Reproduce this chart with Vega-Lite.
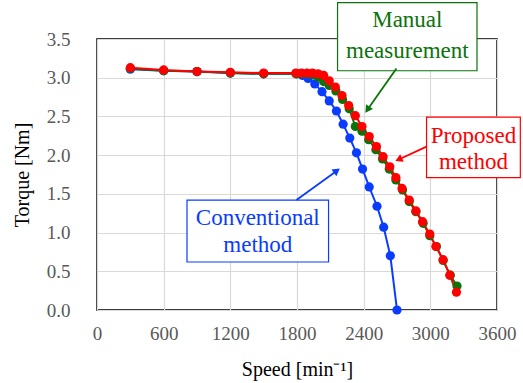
{
  "$schema": "https://vega.github.io/schema/vega-lite/v6.json",
  "width": 400,
  "height": 271,
  "autosize": {"type": "none"},
  "padding": {"left": 97, "top": 39, "right": 26, "bottom": 73},
  "background": "white",
  "config": {
    "view": {"stroke": "black", "strokeWidth": 1.5}
  },
  "datasets": {
    "curves": [
      {"series": "Conventional", "speed": 300, "torque": 3.11},
      {"series": "Conventional", "speed": 600, "torque": 3.09},
      {"series": "Conventional", "speed": 900, "torque": 3.08},
      {"series": "Conventional", "speed": 1200, "torque": 3.06},
      {"series": "Conventional", "speed": 1500, "torque": 3.05},
      {"series": "Conventional", "speed": 1800, "torque": 3.05},
      {"series": "Conventional", "speed": 1850, "torque": 3.03},
      {"series": "Conventional", "speed": 1900, "torque": 2.99},
      {"series": "Conventional", "speed": 1960, "torque": 2.92},
      {"series": "Conventional", "speed": 2025, "torque": 2.82},
      {"series": "Conventional", "speed": 2090, "torque": 2.70},
      {"series": "Conventional", "speed": 2155, "torque": 2.57},
      {"series": "Conventional", "speed": 2215, "torque": 2.40},
      {"series": "Conventional", "speed": 2275, "torque": 2.22},
      {"series": "Conventional", "speed": 2335, "torque": 2.03},
      {"series": "Conventional", "speed": 2390, "torque": 1.82},
      {"series": "Conventional", "speed": 2450, "torque": 1.59},
      {"series": "Conventional", "speed": 2520, "torque": 1.34},
      {"series": "Conventional", "speed": 2580, "torque": 1.07},
      {"series": "Conventional", "speed": 2640, "torque": 0.70},
      {"series": "Conventional", "speed": 2700, "torque": 0.00},
      {"series": "Manual", "speed": 300, "torque": 3.12},
      {"series": "Manual", "speed": 600, "torque": 3.09},
      {"series": "Manual", "speed": 900, "torque": 3.08},
      {"series": "Manual", "speed": 1200, "torque": 3.06},
      {"series": "Manual", "speed": 1500, "torque": 3.05},
      {"series": "Manual", "speed": 1790, "torque": 3.05},
      {"series": "Manual", "speed": 1840, "torque": 3.05},
      {"series": "Manual", "speed": 1890, "torque": 3.05},
      {"series": "Manual", "speed": 1940, "torque": 3.04},
      {"series": "Manual", "speed": 1990, "torque": 3.01},
      {"series": "Manual", "speed": 2040, "torque": 2.95},
      {"series": "Manual", "speed": 2090, "torque": 2.90},
      {"series": "Manual", "speed": 2150, "torque": 2.83},
      {"series": "Manual", "speed": 2210, "torque": 2.72},
      {"series": "Manual", "speed": 2270, "torque": 2.60},
      {"series": "Manual", "speed": 2325, "torque": 2.37},
      {"series": "Manual", "speed": 2385, "torque": 2.31},
      {"series": "Manual", "speed": 2445, "torque": 2.20},
      {"series": "Manual", "speed": 2510, "torque": 2.07},
      {"series": "Manual", "speed": 2570, "torque": 1.95},
      {"series": "Manual", "speed": 2630, "torque": 1.82},
      {"series": "Manual", "speed": 2690, "torque": 1.68},
      {"series": "Manual", "speed": 2750, "torque": 1.55},
      {"series": "Manual", "speed": 2810, "torque": 1.40},
      {"series": "Manual", "speed": 2870, "torque": 1.27},
      {"series": "Manual", "speed": 2935, "torque": 1.12},
      {"series": "Manual", "speed": 2995, "torque": 0.96},
      {"series": "Manual", "speed": 3055, "torque": 0.82},
      {"series": "Manual", "speed": 3115, "torque": 0.64},
      {"series": "Manual", "speed": 3180, "torque": 0.45},
      {"series": "Manual", "speed": 3240, "torque": 0.31},
      {"series": "Proposed", "speed": 300, "torque": 3.13},
      {"series": "Proposed", "speed": 600, "torque": 3.10},
      {"series": "Proposed", "speed": 900, "torque": 3.08},
      {"series": "Proposed", "speed": 1200, "torque": 3.07},
      {"series": "Proposed", "speed": 1500, "torque": 3.06},
      {"series": "Proposed", "speed": 1790, "torque": 3.06},
      {"series": "Proposed", "speed": 1840, "torque": 3.06},
      {"series": "Proposed", "speed": 1890, "torque": 3.06},
      {"series": "Proposed", "speed": 1940, "torque": 3.06},
      {"series": "Proposed", "speed": 1990, "torque": 3.05},
      {"series": "Proposed", "speed": 2040, "torque": 3.03},
      {"series": "Proposed", "speed": 2090, "torque": 2.96},
      {"series": "Proposed", "speed": 2145, "torque": 2.88},
      {"series": "Proposed", "speed": 2205, "torque": 2.77},
      {"series": "Proposed", "speed": 2265, "torque": 2.64},
      {"series": "Proposed", "speed": 2325, "torque": 2.51},
      {"series": "Proposed", "speed": 2385, "torque": 2.37},
      {"series": "Proposed", "speed": 2450, "torque": 2.24},
      {"series": "Proposed", "speed": 2515, "torque": 2.11},
      {"series": "Proposed", "speed": 2575, "torque": 1.98},
      {"series": "Proposed", "speed": 2635, "torque": 1.85},
      {"series": "Proposed", "speed": 2690, "torque": 1.71},
      {"series": "Proposed", "speed": 2745, "torque": 1.57},
      {"series": "Proposed", "speed": 2810, "torque": 1.42},
      {"series": "Proposed", "speed": 2870, "torque": 1.28},
      {"series": "Proposed", "speed": 2930, "torque": 1.14},
      {"series": "Proposed", "speed": 2995, "torque": 0.98},
      {"series": "Proposed", "speed": 3050, "torque": 0.82},
      {"series": "Proposed", "speed": 3115, "torque": 0.65},
      {"series": "Proposed", "speed": 3175, "torque": 0.45},
      {"series": "Proposed", "speed": 3235, "torque": 0.23}
    ],
    "boxes": [
      {"series": "Manual", "x1": 2165, "x2": 3420, "y1": 3.97, "y2": 3.09},
      {"series": "Proposed", "x1": 2966, "x2": 3810, "y1": 2.49, "y2": 1.71},
      {"series": "Conventional", "x1": 810, "x2": 2084, "y1": 1.42, "y2": 0.62}
    ],
    "labels": [
      {"series": "Manual", "x": 2793, "y": 3.74, "text": "Manual"},
      {"series": "Manual", "x": 2793, "y": 3.35, "text": "measurement"},
      {"series": "Proposed", "x": 3388, "y": 2.25, "text": "Proposed"},
      {"series": "Proposed", "x": 3388, "y": 1.91, "text": "method"},
      {"series": "Conventional", "x": 1447, "y": 1.19, "text": "Conventional"},
      {"series": "Conventional", "x": 1447, "y": 0.84, "text": "method"}
    ],
    "arrows": [
      {"series": "Manual", "x1": 2695, "y1": 3.12, "x2": 2440, "y2": 2.60, "angle": 214},
      {"series": "Proposed", "x1": 2966, "y1": 2.11, "x2": 2725, "y2": 1.95, "angle": 245},
      {"series": "Conventional", "x1": 1795, "y1": 1.42, "x2": 2150, "y2": 1.79, "angle": 54}
    ]
  },
  "layer": [
    {
      "data": {"name": "curves"},
      "mark": {"type": "line", "strokeWidth": 2},
      "encoding": {
        "x": {
          "field": "speed", "type": "quantitative",
          "scale": {"domain": [0, 3600], "nice": false},
          "axis": {
            "values": [0, 600, 1200, 1800, 2400, 3000, 3600],
            "format": "d",
            "title": "Speed [min⁻¹]",
            "grid": true, "gridColor": "#d9d9d9", "gridWidth": 1.2,
            "ticks": false, "domain": false,
            "labelFont": "'Liberation Serif', serif", "labelFontSize": 19, "labelColor": "#595959",
            "labelPadding": 14, "labelFlush": false, "labelOverlap": false,
            "titleFont": "'Liberation Serif', serif", "titleFontSize": 20, "titleFontWeight": "normal",
            "titleColor": "black", "titlePadding": 16
          }
        },
        "y": {
          "field": "torque", "type": "quantitative",
          "scale": {"domain": [0, 3.5], "nice": false},
          "axis": {
            "values": [0, 0.5, 1, 1.5, 2, 2.5, 3, 3.5],
            "tickCount": 8,
            "format": ".1f",
            "title": "Torque [Nm]",
            "grid": true, "gridColor": "#d9d9d9", "gridWidth": 1.2,
            "ticks": false, "domain": false,
            "labelFont": "'Liberation Serif', serif", "labelFontSize": 19, "labelColor": "#595959",
            "labelPadding": 27, "labelOverlap": false, "labelFlush": false,
            "titleFont": "'Liberation Serif', serif", "titleFontSize": 20, "titleFontWeight": "normal",
            "titleColor": "black", "titlePadding": 14
          }
        },
        "color": {
          "field": "series", "type": "nominal",
          "scale": {"domain": ["Conventional", "Manual", "Proposed"], "range": ["#0a3cff", "#0b730b", "#ff0000"]},
          "legend": null
        }
      }
    },
    {
      "data": {"name": "curves"},
      "mark": {"type": "point", "filled": true, "opacity": 1, "size": 85},
      "encoding": {
        "x": {"field": "speed", "type": "quantitative"},
        "y": {"field": "torque", "type": "quantitative"},
        "color": {"field": "series", "type": "nominal", "legend": null}
      }
    },
    {
      "data": {"name": "boxes"},
      "mark": {"type": "rect", "fill": "white", "strokeWidth": 1.2},
      "encoding": {
        "x": {"field": "x1", "type": "quantitative"},
        "x2": {"field": "x2"},
        "y": {"field": "y1", "type": "quantitative"},
        "y2": {"field": "y2"},
        "stroke": {"field": "series", "type": "nominal", "scale": {"domain": ["Conventional", "Manual", "Proposed"], "range": ["#0a3cff", "#0b730b", "#ff0000"]}, "legend": null}
      }
    },
    {
      "data": {"name": "labels"},
      "mark": {"type": "text", "font": "'Liberation Serif', serif", "fontSize": 23, "align": "center", "baseline": "middle"},
      "encoding": {
        "x": {"field": "x", "type": "quantitative"},
        "y": {"field": "y", "type": "quantitative"},
        "text": {"field": "text"},
        "color": {"field": "series", "type": "nominal", "legend": null}
      }
    },
    {
      "data": {"name": "arrows"},
      "mark": {"type": "rule", "strokeWidth": 1.8},
      "encoding": {
        "x": {"field": "x1", "type": "quantitative"},
        "y": {"field": "y1", "type": "quantitative"},
        "x2": {"field": "x2"},
        "y2": {"field": "y2"},
        "color": {"field": "series", "type": "nominal", "legend": null}
      }
    },
    {
      "data": {"name": "arrows"},
      "mark": {"type": "point", "shape": "triangle", "filled": true, "opacity": 1, "size": 70},
      "encoding": {
        "x": {"field": "x2", "type": "quantitative"},
        "y": {"field": "y2", "type": "quantitative"},
        "angle": {"field": "angle", "type": "quantitative", "scale": null},
        "color": {"field": "series", "type": "nominal", "legend": null}
      }
    }
  ],
  "resolve": {"scale": {"color": "shared"}}
}
